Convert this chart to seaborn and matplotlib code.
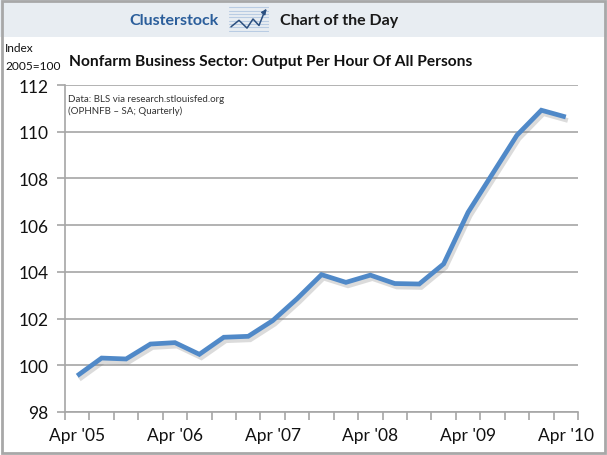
import numpy as np
import pandas as pd
import matplotlib
matplotlib.use("Agg")
import matplotlib.pyplot as plt
import matplotlib.patheffects as pe
from matplotlib.patches import Rectangle
import seaborn as sns

# ---- data ----
quarters = ["Apr '05", "Jul '05", "Oct '05", "Jan '06",
            "Apr '06", "Jul '06", "Oct '06", "Jan '07",
            "Apr '07", "Jul '07", "Oct '07", "Jan '08",
            "Apr '08", "Jul '08", "Oct '08", "Jan '09",
            "Apr '09", "Jul '09", "Oct '09", "Jan '10",
            "Apr '10"]
output_per_hour = [99.55, 100.31, 100.27, 100.91, 100.97, 100.47, 101.20, 101.24,
                   101.91, 102.85, 103.88, 103.55, 103.86, 103.50, 103.48, 104.34,
                   106.55, 108.20, 109.85, 110.92, 110.63]
y_ticks = [98, 100, 102, 104, 106, 108, 110, 112]

df = pd.DataFrame({"quarter": quarters, "value": output_per_hour})
df["pos"] = np.arange(len(df))

sns.set_theme(style="white")
plt.rcParams["font.family"] = ["Lato", "DejaVu Sans"]

W, H = 607, 456
fig = plt.figure(figsize=(W / 100, H / 100), dpi=100)

# header band and outer border
fig.patches.append(Rectangle((0, 1 - 38 / H), 1, 38 / H, transform=fig.transFigure,
                             facecolor="#E8EDF2", edgecolor="none", zorder=-2))
fig.patches.append(Rectangle((2 / W, 2 / H), 1 - 4 / W, 1 - 4 / H, transform=fig.transFigure,
                             facecolor="none", edgecolor="#A8A8A8", linewidth=2, zorder=5))

fig.text(219 / W, 1 - 21 / H, "Clusterstock", ha="right", va="center",
         fontsize=11.5, fontweight="bold", color="#2B5E9B")
fig.text(280 / W, 1 - 21 / H, "Chart of the Day", ha="left", va="center",
         fontsize=11.5, fontweight="bold", color="#1A1A1A")

# small header icon
icon = fig.add_axes([229 / W, 1 - 33 / H, 40 / W, 26 / H])
icon.set_xlim(0, 10)
icon.set_ylim(0, 10)
for yy in np.linspace(0.5, 9.5, 8):
    icon.axhline(yy, color="#B9CCE3", lw=0.8)
icon.plot([0.5, 2.5, 4.5, 6.0, 7.5, 9.0], [2.0, 4.5, 1.5, 5.0, 2.5, 8.3], color="#2B4F7F", lw=1.1)
icon.annotate("", xy=(9.8, 9.7), xytext=(8.7, 7.4),
              arrowprops=dict(arrowstyle="-|>", color="#2B4F7F", lw=1.1, mutation_scale=7))
icon.axis("off")
icon.set_zorder(3)

# titles
fig.text(5 / W, 1 - 49 / H, "Index", ha="left", va="center", fontsize=8.6, color="#111111")
fig.text(5 / W, 1 - 66 / H, "2005=100", ha="left", va="center", fontsize=8.6, color="#111111")
fig.text(271 / W, 1 - 62 / H, "Nonfarm Business Sector: Output Per Hour Of All Persons",
         ha="center", va="center", fontsize=11.2, fontweight="bold", color="#111111")

# main axes
ax = fig.add_axes([65 / W, 1 - 413 / H, (578 - 65) / W, (413 - 86) / H])
sns.lineplot(data=df, x="pos", y="value", ax=ax, color="#5089C8", linewidth=3.4,
             solid_joinstyle="miter", solid_capstyle="butt",
             path_effects=[pe.SimpleLineShadow(offset=(1.5, -2.5), shadow_color="#808080", alpha=0.28),
                           pe.Normal()])

ax.set_xlim(-0.5, len(quarters) - 0.5)
ax.set_ylim(y_ticks[0], y_ticks[-1])
ax.set_yticks(y_ticks)
ax.set_yticklabels([str(v) for v in y_ticks], fontsize=12.5, color="#111111")
ax.grid(axis="y", color="#A6A6A6", linewidth=1.2)
ax.set_axisbelow(True)

label_pos = [i for i, q in enumerate(quarters) if q.startswith("Apr")]
ax.set_xticks(label_pos)
ax.set_xticklabels([quarters[i] for i in label_pos], fontsize=12.5, color="#111111")
ax.set_xticks(np.arange(-0.5, len(quarters)), minor=True)
ax.tick_params(axis="x", which="major", length=0, pad=11)
ax.tick_params(axis="x", which="minor", length=6, width=1.2, color="#A6A6A6", direction="out")
ax.tick_params(axis="y", which="major", length=6, width=1.2, color="#A6A6A6", direction="out", pad=6)
ax.xaxis.set_ticks_position("bottom")
ax.yaxis.set_ticks_position("left")

for s in ["top", "right"]:
    ax.spines[s].set_visible(False)
for s in ["left", "bottom"]:
    ax.spines[s].set_color("#A6A6A6")
    ax.spines[s].set_linewidth(1.2)

ax.set_xlabel("")
ax.set_ylabel("")

ax.text(3 / (578 - 65), 1 - 9 / 327, "Data: BLS via research.stlouisfed.org\n(OPHNFB \u2013 SA; Quarterly)",
        transform=ax.transAxes, ha="left", va="top", fontsize=7, color="#333333", linespacing=1.35)

fig.savefig("out.png", dpi=100)
